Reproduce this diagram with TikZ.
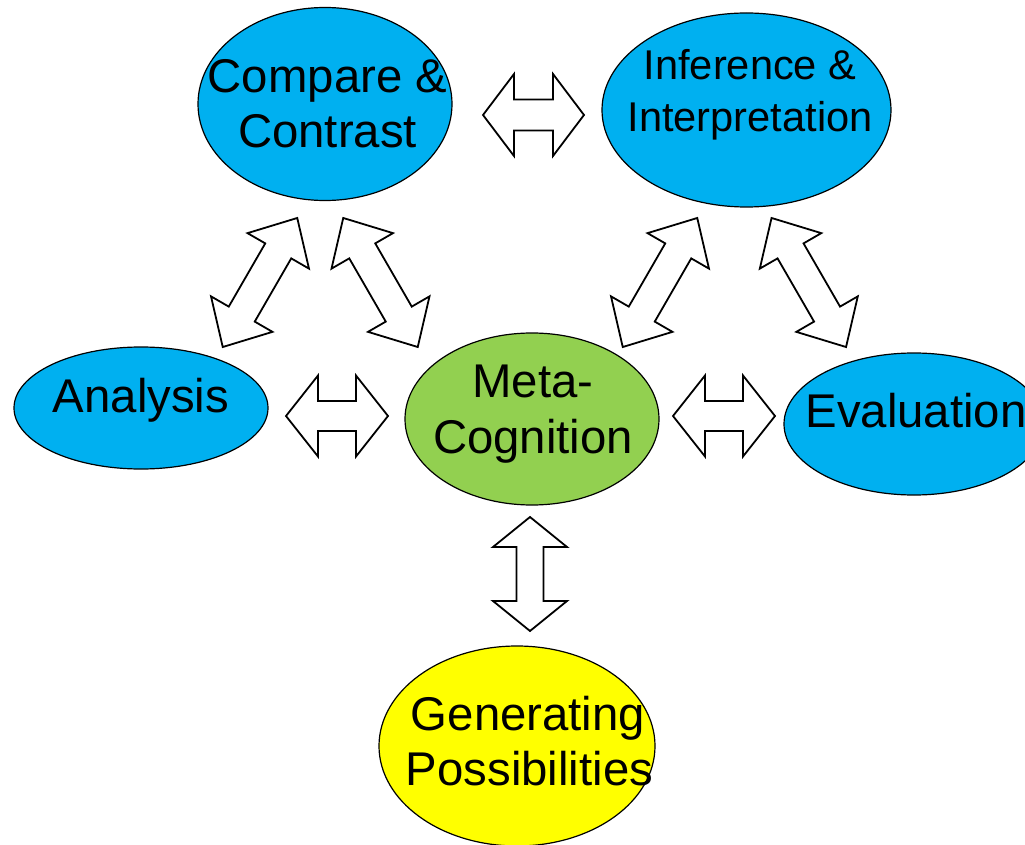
\documentclass[tikz,border=0pt]{standalone}
\usepackage{fontspec}
\setmainfont{Liberation Sans}
\usetikzlibrary{shapes.geometric}

\definecolor{skyblue}{HTML}{00B0F0}
\definecolor{leafgreen}{HTML}{92D050}
\definecolor{sunyellow}{HTML}{FFFF00}

\def\px{0.75pt}

\tikzset{
  bubble/.style={ellipse, draw=black, line width=0.9pt, inner sep=0pt},
  lbl/.style={anchor=base, inner sep=0pt, font=\fontsize{35.5}{40}\selectfont},
  lblsmall/.style={lbl, font=\fontsize{31.2}{36}\selectfont},
  twoway/.style={draw=black, fill=white, line width=1.35pt, line join=miter},
}

% hollow two-headed block arrow: centre x, centre y, angle, length, head width, head length, shaft width
\newcommand\blockarrow[7]{%
  \begin{scope}[shift={(#1,#2)}, rotate=#3]
    \path[twoway]
      ({-#4/2},0) -- ({-#4/2+#6},{-#5/2}) -- ({-#4/2+#6},{-#7/2})
      -- ({#4/2-#6},{-#7/2}) -- ({#4/2-#6},{-#5/2}) -- ({#4/2},0)
      -- ({#4/2-#6},{#5/2}) -- ({#4/2-#6},{#7/2})
      -- ({-#4/2+#6},{#7/2}) -- ({-#4/2+#6},{#5/2}) -- cycle;
  \end{scope}}

\begin{document}
\begin{tikzpicture}[x=0.75pt, y=-0.75pt]
  \useasboundingbox (0,0) rectangle (1025,845);

  % ellipses
  \node[bubble, fill=skyblue, minimum width=254*\px, minimum height=193*\px] (cmp) at (325,104) {};
  \node[bubble, fill=skyblue, minimum width=289*\px, minimum height=194*\px] (inf) at (746.5,110) {};
  \node[bubble, fill=skyblue, minimum width=254*\px, minimum height=122*\px] (ana) at (141,408) {};
  \node[bubble, fill=leafgreen, minimum width=254*\px, minimum height=172*\px] (meta) at (532,419) {};
  \node[bubble, fill=skyblue, minimum width=260*\px, minimum height=142*\px] (eval) at (914,424) {};
  \node[bubble, fill=sunyellow, minimum width=276*\px, minimum height=200*\px] (gen) at (517,746) {};

  % labels
  \node[lbl] (cmpA) at (327.5,93) {Compare \&};
  \node[lbl] (cmpB) at (327.5,148) {Contrast};
  \node[lblsmall] (infA) at (750,80) {Inference \&};
  \node[lblsmall] (infB) at (750,132) {Interpretation};
  \node[lbl] (anaA) at (141,412) {Analysis};
  \node[lbl] (metaA) at (533,397) {Meta-};
  \node[lbl] (metaB) at (533,453) {Cognition};
  \node[lbl] (evalA) at (916,427) {Evaluation};
  \node[lbl] (genA) at (528,730) {Generating};
  \node[lbl] (genB) at (529.5,785) {Possibilities};

  % two-way block arrows
  \blockarrow{533.5}{115}{0}{101}{82}{31}{31}
  \blockarrow{337}{416}{0}{102}{81}{32}{30}
  \blockarrow{724}{416}{0}{102}{81}{32}{30}
  \blockarrow{530}{574}{90}{114}{74}{30}{27}
  \blockarrow{260}{282.5}{60}{149}{71}{38}{30}
  \blockarrow{380.5}{282.5}{-60}{149}{71}{38}{30}
  \blockarrow{660}{282.5}{60}{149}{71}{38}{30}
  \blockarrow{808.8}{282.5}{-60}{149}{71}{38}{30}
\end{tikzpicture}
\end{document}
